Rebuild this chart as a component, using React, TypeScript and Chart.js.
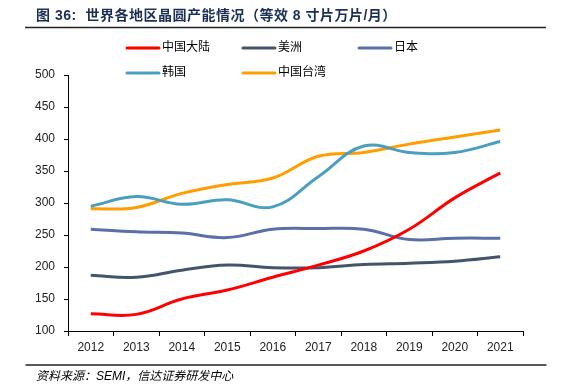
import React, { useEffect, useRef } from "react";
import { Chart, registerables } from "chart.js";

Chart.register(...registerables);

const years = ["2012", "2013", "2014", "2015", "2016", "2017", "2018", "2019", "2020", "2021"];
const chinaMainland = [127, 126, 150, 164, 184, 203, 225, 259, 308, 347];
const americas = [187, 184, 195, 203, 199, 199, 204, 206, 209, 216];
const japan = [259, 255, 253, 246, 259, 260, 259, 243, 245, 245];
const korea = [295, 310, 298, 305, 294, 341, 389, 379, 379, 396];
const taiwan = [291, 293, 315, 329, 339, 373, 379, 392, 403, 414];

const seriesNames = ["中国大陆", "美洲", "日本", "韩国", "中国台湾"];
const seriesColors = ["#FF0000", "#44546A", "#5B6FA8", "#4A9EBE", "#FF9E00"];
const yMin = 100;
const yMax = 500;
const yStep = 50;

const titleText = "图 36:  世界各地区晶圆产能情况（等效 8 寸片万片/月）";
const sourceText = "资料来源：SEMI，信达证券研发中心";

const CJK = "'Liberation Sans', Arial, 'Noto Sans CJK SC', sans-serif";

const decorPlugin = {
  id: "decor",
  afterDraw(chart: any) {
    const ctx = chart.ctx;
    ctx.save();
    // title
    ctx.fillStyle = "#1B2F55";
    ctx.font = "bold 14px " + CJK;
    ctx.textBaseline = "middle";
    ctx.textAlign = "left";
    ctx.letterSpacing = "0.5px";
    ctx.fillText(titleText, 36, 16);
    ctx.letterSpacing = "0px";
    ctx.strokeStyle = "#222";
    ctx.lineWidth = 1.5;
    ctx.beginPath();
    ctx.moveTo(25, 27.5);
    ctx.lineTo(546, 27.5);
    ctx.stroke();

    // legend
    const cols = [127, 243, 359];
    const rows = [48, 73];
    ctx.font = "12px " + CJK;
    ctx.lineCap = "round";
    chart.data.datasets.forEach((ds: any, i: number) => {
      const x = cols[i % 3];
      const y = rows[Math.floor(i / 3)];
      ctx.strokeStyle = ds.borderColor;
      ctx.lineWidth = 3;
      ctx.beginPath();
      ctx.moveTo(x, y);
      ctx.lineTo(x + 32, y);
      ctx.stroke();
      ctx.fillStyle = "#000";
      ctx.fillText(ds.label, x + 35, y);
    });

    // source
    ctx.strokeStyle = "#222";
    ctx.lineWidth = 1.5;
    ctx.beginPath();
    ctx.moveTo(26, 365);
    ctx.lineTo(546, 365);
    ctx.stroke();
    ctx.fillStyle = "#000";
    ctx.font = "italic 12px " + CJK;
    ctx.fillText(sourceText, 36, 377);
    ctx.restore();
  },
};

export default function App() {
  const ref = useRef<HTMLCanvasElement>(null);
  useEffect(() => {
    const canvas = ref.current;
    if (!canvas) return;
    const data = [chinaMainland, americas, japan, korea, taiwan];
    const chart = new Chart(canvas, {
      type: "line",
      data: {
        labels: years,
        datasets: data.map((d, i) => ({
          label: seriesNames[i],
          data: d,
          borderColor: seriesColors[i],
          backgroundColor: seriesColors[i],
          borderWidth: 3,
          pointRadius: 0,
          tension: 0.4,
          fill: false,
        })),
      },
      options: {
        animation: false,
        responsive: false,
        events: [],
        layout: { padding: { left: 0, right: 43, top: 75, bottom: 26 } },
        plugins: { legend: { display: false }, title: { display: false }, tooltip: { enabled: false } },
        scales: {
          x: {
            type: "category",
            offset: true,
            grid: { display: true, offset: true, drawOnChartArea: false, drawTicks: true, tickLength: 5, color: "#000" },
            border: { display: true, color: "#000", width: 1 },
            ticks: { color: "#222", font: { size: 12, family: "'Liberation Sans', Arial" }, padding: 4, maxRotation: 0 },
            afterFit: (s: any) => { s.height = 30; },
          },
          y: {
            min: yMin,
            max: yMax,
            grid: { display: true, drawOnChartArea: false, drawTicks: true, tickLength: 4, color: "#000" },
            border: { display: true, color: "#000", width: 1 },
            ticks: { stepSize: yStep, color: "#222", font: { size: 12, family: "'Liberation Sans', Arial" }, padding: 9 },
            afterFit: (s: any) => { s.width = 68; },
          },
        },
      },
      plugins: [decorPlugin],
    });
    return () => chart.destroy();
  }, []);
  return (
    <div style={{ position: "absolute", left: 0, top: 0, width: 566, height: 387, background: "#fff" }}>
      <canvas ref={ref} width={566} height={387} style={{ width: 566, height: 387, display: "block" }} />
    </div>
  );
}
